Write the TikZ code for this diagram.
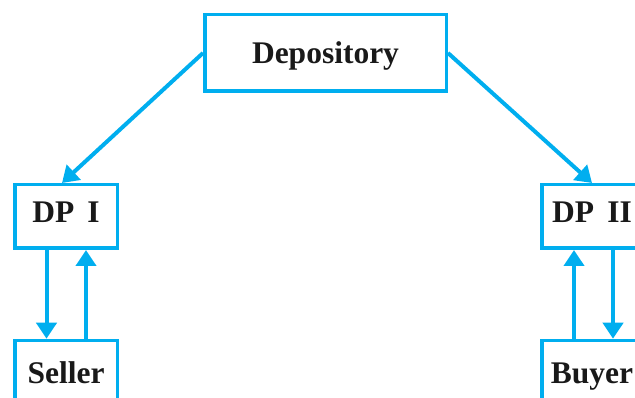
\documentclass[tikz,border=0pt]{standalone}
\usepackage{fontspec}
\setmainfont{Liberation Serif}
\usetikzlibrary{arrows.meta}
\definecolor{cy}{RGB}{0,174,239}
\begin{document}
\begin{tikzpicture}[x=1pt,y=-1pt,
  box/.style={draw=cy,line width=3.5pt,font=\fontsize{31.5}{36}\selectfont\bfseries,text=black!90,text height=21pt,inner sep=0pt},
  arr/.style={draw=cy,line width=4pt,-{Triangle[width=20pt,length=16pt]}}]
\useasboundingbox (0,0) rectangle (635,398);
\clip (0,0) rectangle (635,398);
\node[box,minimum width=241.5pt,minimum height=76.5pt,text depth=0pt] (dep) at (325.5,53) {Depository};
\node[box,minimum width=102.5pt,minimum height=63.5pt,text depth=9pt] (dp1) at (66,216.5) {DP\, I};
\node[box,minimum width=100.5pt,minimum height=63.5pt,text depth=9pt] (dp2) at (592,216.5) {DP\, II};
\node[box,minimum width=102.5pt,minimum height=70pt,text depth=6pt] (seller) at (66,375.5) {Seller};
\node[box,minimum width=100.5pt,minimum height=70pt,text depth=6pt] (buyer) at (592,375.5) {Buyer};
\draw[arr] (dep.west) -- ([xshift=-4pt]dp1.north);
\draw[arr] (dep.east) -- (dp2.north);
\draw[arr] ([xshift=-19.5pt]dp1.south) -- ([xshift=-19.5pt]seller.north);
\draw[arr] ([xshift=20pt]seller.north) -- ([xshift=20pt]dp1.south);
\draw[arr] ([xshift=-18pt]buyer.north) -- ([xshift=-18pt]dp2.south);
\draw[arr] ([xshift=21pt]dp2.south) -- ([xshift=21pt]buyer.north);
\end{tikzpicture}
\end{document}
